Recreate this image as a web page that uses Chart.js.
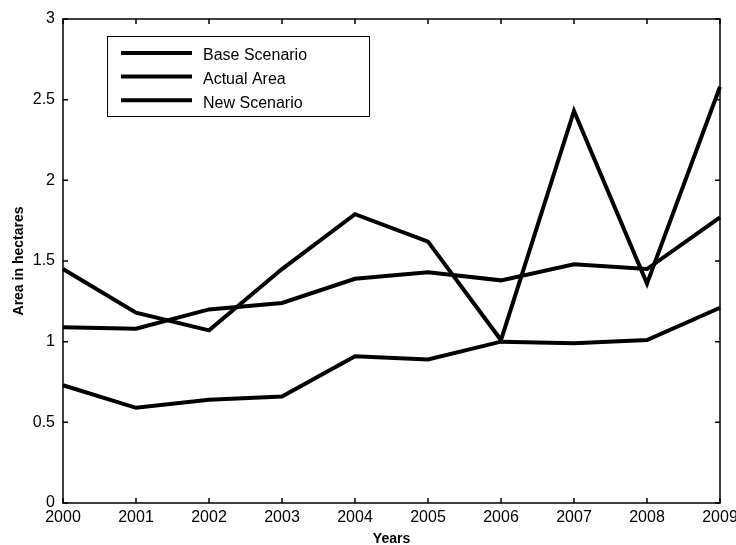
<!DOCTYPE html>
<html>
<head>
<meta charset="utf-8">
<title>Area in hectares</title>
<script src="https://cdn.jsdelivr.net/npm/chart.js@4/dist/chart.umd.min.js"></script>
<style>
  html, body { margin: 0; padding: 0; background: #fff; }
  #wrap { width: 736px; height: 545px; }
</style>
</head>
<body>
<div id="wrap"><canvas id="areaChart" width="736" height="545"></canvas></div>
<script>
const years = ["2000", "2001", "2002", "2003", "2004", "2005", "2006", "2007", "2008", "2009"];
const baseScenario = [0.73, 0.59, 0.64, 0.66, 0.91, 0.89, 1.0, 0.99, 1.01, 1.21];
const actualArea = [1.45, 1.18, 1.07, 1.45, 1.79, 1.62, 1.01, 2.43, 1.36, 2.58];
const newScenario = [1.09, 1.08, 1.2, 1.24, 1.39, 1.43, 1.38, 1.48, 1.45, 1.77];
const yTicks = [0, 0.5, 1, 1.5, 2, 2.5, 3];

const FONT = "'Liberation Sans', Arial, Helvetica, sans-serif";

// box round the plot with short inward ticks on all four sides
const framePlugin = {
  id: "frame",
  afterDatasetsDraw(chart) {
    const { ctx, chartArea: a, scales } = chart;
    const len = 5;
    ctx.save();
    ctx.strokeStyle = "#000";
    ctx.lineWidth = 1.5;
    ctx.strokeRect(a.left, a.top, a.right - a.left, a.bottom - a.top);
    ctx.beginPath();
    years.forEach((y, i) => {
      const px = scales.x.getPixelForValue(i);
      ctx.moveTo(px, a.bottom);
      ctx.lineTo(px, a.bottom - len);
      ctx.moveTo(px, a.top);
      ctx.lineTo(px, a.top + len);
    });
    yTicks.forEach((v) => {
      const py = scales.y.getPixelForValue(v);
      ctx.moveTo(a.left, py);
      ctx.lineTo(a.left + len, py);
      ctx.moveTo(a.right, py);
      ctx.lineTo(a.right - len, py);
    });
    ctx.stroke();
    ctx.restore();
  },
};

// legend box inside the upper left of the plot
const boxLegend = {
  id: "boxLegend",
  afterDatasetsDraw(chart) {
    const { ctx, chartArea: a } = chart;
    const x0 = a.left + 44, y0 = a.top + 17, w = 262, h = 80;
    ctx.save();
    ctx.fillStyle = "#fff";
    ctx.fillRect(x0, y0, w, h);
    ctx.strokeStyle = "#000";
    ctx.lineWidth = 1;
    ctx.strokeRect(x0 + 0.5, y0 + 0.5, w, h);
    ctx.font = "16px " + FONT;
    ctx.textBaseline = "middle";
    chart.data.datasets.forEach((ds, i) => {
      const ry = y0 + 17 + i * 23.6;
      ctx.beginPath();
      ctx.lineWidth = 4;
      ctx.strokeStyle = ds.borderColor;
      ctx.moveTo(x0 + 14, ry);
      ctx.lineTo(x0 + 85, ry);
      ctx.stroke();
      ctx.fillStyle = "#000";
      ctx.fillText(ds.label, x0 + 96, ry + 3);
    });
    ctx.restore();
  },
};

const lineStyle = {
  borderColor: "#000",
  borderWidth: 4,
  pointRadius: 0,
  tension: 0,
  fill: false,
  borderJoinStyle: "miter",
};

new Chart(document.getElementById("areaChart"), {
  type: "line",
  data: {
    labels: years,
    datasets: [
      { label: "Base Scenario", data: baseScenario, ...lineStyle },
      { label: "Actual Area", data: actualArea, ...lineStyle },
      { label: "New Scenario", data: newScenario, ...lineStyle },
    ],
  },
  options: {
    responsive: false,
    animation: false,
    events: [],
    layout: { padding: { top: 19, right: 16, left: 0, bottom: 0 } },
    plugins: {
      legend: { display: false },
      tooltip: { enabled: false },
    },
    scales: {
      x: {
        type: "category",
        offset: false,
        grid: { display: false, drawTicks: false },
        border: { display: false },
        ticks: {
          color: "#000",
          font: { family: FONT, size: 16 },
          padding: 5,
          maxRotation: 0,
          autoSkip: false,
        },
        title: {
          display: true,
          text: "Years",
          color: "#000",
          font: { family: FONT, size: 14, weight: "bold" },
          padding: { top: 0, bottom: -3 },
        },
        afterFit(scale) {
          scale.height = 42;
          scale.paddingLeft = 0;
          scale.paddingRight = 0;
        },
      },
      y: {
        min: 0,
        max: 3,
        grid: { display: false, drawTicks: false },
        border: { display: false },
        ticks: {
          stepSize: 0.5,
          color: "#000",
          font: { family: FONT, size: 16 },
          padding: 8,
          callback: (v) => String(v),
        },
        title: {
          display: true,
          text: "Area in hectares",
          color: "#000",
          font: { family: FONT, size: 14, weight: "bold" },
          padding: { top: 11, bottom: 0 },
        },
        afterFit(scale) {
          scale.width = 63;
          scale.paddingTop = 0;
          scale.paddingBottom = 0;
        },
      },
    },
  },
  plugins: [framePlugin, boxLegend],
});
</script>
</body>
</html>
